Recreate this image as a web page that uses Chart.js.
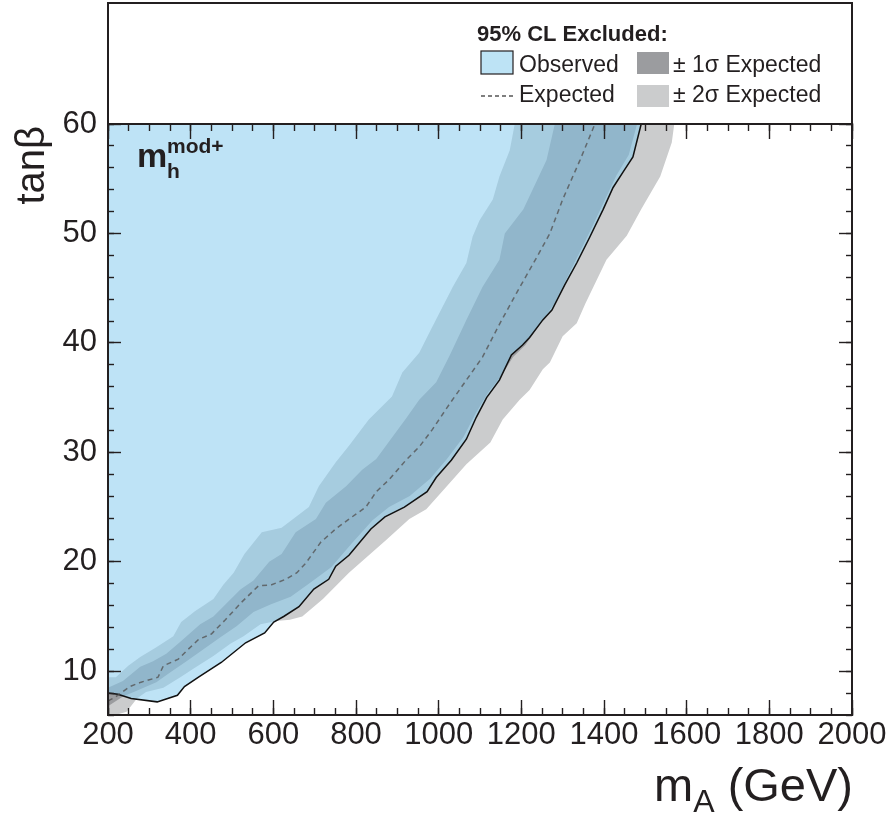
<!DOCTYPE html>
<html><head><meta charset="utf-8">
<script src="https://cdn.jsdelivr.net/npm/chart.js@4.4.1/dist/chart.umd.min.js"></script>
<style>html,body{margin:0;padding:0;background:#fff}canvas{display:block}</style>
</head><body>
<canvas id="c" width="889" height="816"></canvas>
<script>
// ---- data (m_A in GeV, tan beta) ----
const obsX = [200,224,256,319,368,385,419,474,533,579,601,625,662,698,734,751,783,836,870,917,972,994,1031,1067,1091,1116,1147,1176,1203,1220,1252,1274,1305,1334,1366,1398,1422,1446,1470,1490];
const obsY = [8.0,7.9,7.5,7.2,7.8,8.6,9.45,10.8,12.6,13.5,14.5,15.0,15.9,17.5,18.4,19.6,20.6,23.0,24.1,25.0,26.4,27.7,29.3,31.2,33.2,35.0,36.6,38.9,39.8,40.5,42.1,43.0,45.3,47.3,49.7,52.2,54.2,55.6,57.0,60];

const expX = [200,216,253,280,321,334,370,394,419,450,484,523,564,596,630,657,679,715,751,783,824,849,880,921,953,985,1026,1067,1106,1147,1189,1237,1269,1300,1342,1378];
const expY = [7.3,7.6,8.6,9.0,9.45,10.5,11.1,12.0,12.9,13.4,14.7,16.3,17.8,17.9,18.4,19.0,19.9,21.8,23.0,23.9,25.0,26.4,27.5,29.3,30.5,32.1,34.4,36.6,38.7,41.7,44.6,47.8,50.0,53.1,56.7,60];

// +-1 sigma band edges
const sig1UpX = [200,236,278,309,341,375,423,455,484,521,552,590,620,654,703,727,776,815,849,880,921,953,994,1026,1067,1106,1147,1160,1205,1261,1281];
const sig1UpY = [8.5,9.1,10.4,10.9,11.6,12.7,14.3,15.0,16.1,17.5,18.3,20.0,20.7,22.7,23.9,25.4,26.9,28.4,29.4,31.0,33.1,34.8,36.4,38.8,42.1,45.1,47.6,50.0,52.2,56.7,60];
const sig1LoX = [200,236,268,317,351,390,431,472,511,552,593,642,690,740,790,840,880,930,980,1020,1060,1090,1120,1150,1180,1210,1250,1280,1310,1340,1370,1400,1430,1460,1480];
const sig1LoY = [6.8,7.7,8.2,9.0,9.9,10.9,12.0,13.1,14.1,15.4,16.1,16.8,18.1,19.5,21.7,23.8,25.0,26.0,27.6,29.4,31.4,33.6,35.5,36.9,38.7,39.8,42.0,43.6,45.9,48.2,50.5,52.9,55.3,57.2,60];

// +-2 sigma band edges
const sig2UpX = [200,219,249,278,317,358,377,411,455,479,504,530,572,620,686,710,751,783,831,887,912,953,977,1034,1067,1082,1099,1116,1131,1147,1172,1184];
const sig2UpY = [9.45,9.45,10.5,11.3,12.2,13.2,14.5,15.5,16.6,17.9,19.0,20.7,22.7,23.1,25.0,26.9,29.1,30.6,33.0,35.1,37.3,39.1,40.9,45.1,47.3,49.7,51.2,52.2,53.1,55.2,57.6,60];
const sig2LoX = [200,245,270,292,334,375,414,455,496,528,569,608,640,670,720,783,873,929,970,1010,1067,1125,1155,1196,1220,1252,1269,1300,1334,1355,1406,1455,1490,1536,1564,1570];
const sig2LoY = [5.8,6.3,7.5,8.1,8.5,9.45,10.4,11.4,12.5,13.2,14.3,14.6,14.7,15.0,16.6,19.0,22.0,23.9,24.8,26.5,28.9,30.9,33.0,34.8,35.7,37.6,38.2,40.6,41.8,43.6,47.6,49.8,52.2,55.2,58.3,60];

// axis / tick definitions
const xRange = [200, 2000];
const yRange = [6, 60];
const xMajorStep = 200, xMinorStep = 50;
const yMajorStep = 10, yMinorStep = 2;
const legendTitle = '95% CL Excluded:';
const legendLabels = ['Observed', '\u00B1 1\u03C3 Expected', 'Expected', '\u00B1 2\u03C3 Expected'];
const yTitle = 'tan\u03B2';
const xTitleMain = 'm', xTitleSub = 'A', xTitleRest = ' (GeV)';

// ---- styles ----
const FONT = '"Liberation Sans", Arial, Helvetica, sans-serif';
const INK = '#231f20';
const BLUE_FILL = 'rgba(137,204,239,0.55)';
const BLUE_SWATCH = '#bde3f5';
const GRAY1 = '#9b9c9f';
const GRAY2 = '#cbcccd';

function pts(xs, ys) { return xs.map((x, i) => ({x: x, y: ys[i]})); }
function band(ux, uy, lx, ly) { return pts(ux, uy).concat(pts(lx, ly).reverse()); }

function noPad(s) { s.paddingLeft = 0; s.paddingRight = 0; s.paddingTop = 0; s.paddingBottom = 0; }

function scaleDef(axis, pos, range, step, tickLen, opts) {
  const o = opts || {};
  return {
    type: 'linear', axis: axis, position: pos, weight: o.weight || 0,
    min: range[0], max: range[1],
    ticks: Object.assign({
      stepSize: step, autoSkip: false, maxRotation: 0, minRotation: 0,
      includeBounds: false, maxTicksLimit: 1000, display: false,
      callback: v => String(v)
    }, o.ticks || {}),
    grid: { drawOnChartArea: false, drawTicks: true, tickLength: tickLen, tickColor: INK, tickWidth: 1.4, z: 2 },
    border: { display: !!o.border, color: INK, width: 2, z: 2 },
    title: { display: false },
    afterFit: s => { o.afterFit(s); noPad(s); }
  };
}

const tickFont = { family: FONT, size: 31 };

const decor = {
  id: 'decor',
  afterDraw(chart) {
    const ctx = chart.ctx, a = chart.chartArea;
    ctx.save();
    // upper legend box
    ctx.strokeStyle = INK; ctx.lineWidth = 2;
    ctx.beginPath();
    ctx.moveTo(a.left, a.top); ctx.lineTo(a.left, 3); ctx.lineTo(a.right, 3); ctx.lineTo(a.right, a.top);
    ctx.stroke();

    ctx.fillStyle = INK; ctx.textBaseline = 'alphabetic'; ctx.textAlign = 'left';
    ctx.font = 'bold 22px ' + FONT;
    ctx.fillText(legendTitle, 477, 41);

    ctx.fillStyle = BLUE_SWATCH; ctx.fillRect(481, 51, 32, 23);
    ctx.lineWidth = 1.2; ctx.strokeStyle = INK; ctx.strokeRect(481, 51, 32, 23);
    ctx.fillStyle = GRAY1; ctx.fillRect(637, 52, 32, 22);
    ctx.fillStyle = GRAY2; ctx.fillRect(637, 85, 32, 22);
    ctx.save();
    ctx.setLineDash([4, 3]); ctx.strokeStyle = '#555'; ctx.lineWidth = 1.3;
    ctx.beginPath(); ctx.moveTo(481, 96); ctx.lineTo(514, 96); ctx.stroke();
    ctx.restore();

    ctx.fillStyle = INK; ctx.font = '23px ' + FONT;
    ctx.fillText(legendLabels[0], 519, 72);
    ctx.fillText(legendLabels[1], 673, 72);
    ctx.fillText(legendLabels[2], 519, 102);
    ctx.fillText(legendLabels[3], 673, 102);

    // m_h^{mod+}
    ctx.font = 'bold 34px ' + FONT;
    ctx.fillText('m', 137, 167);
    ctx.font = 'bold 21px ' + FONT;
    ctx.fillText('mod+', 167, 153);
    ctx.fillText('h', 167, 178);

    // y title
    ctx.save();
    ctx.translate(44, 126);
    ctx.rotate(-Math.PI / 2);
    ctx.textAlign = 'right';
    ctx.font = '40px ' + FONT;
    ctx.fillText(yTitle, 0, 0);
    ctx.restore();

    // x title, right aligned at chart right
    const big = '47px ' + FONT, small = '32px ' + FONT;
    ctx.font = big;
    const wRest = ctx.measureText(xTitleRest).width;
    const wM = ctx.measureText(xTitleMain).width;
    ctx.font = small;
    const wA = ctx.measureText(xTitleSub).width;
    const x = a.right + 1 - wRest - wA - wM;
    ctx.font = big;
    ctx.fillText(xTitleMain, x, 801);
    ctx.font = small;
    ctx.fillText(xTitleSub, x + wM, 812);
    ctx.font = big;
    ctx.fillText(xTitleRest, x + wM + wA, 801);
    ctx.restore();
  }
};

new Chart(document.getElementById('c'), {
  type: 'line',
  data: {
    datasets: [
      { label: 'Expected', data: pts(expX, expY), borderColor: 'rgba(85,85,85,0.8)', borderWidth: 1.5,
        borderDash: [5, 4], fill: false, pointRadius: 0, order: 1 },
      { label: 'Observed', data: pts(obsX, obsY), borderColor: '#111', borderWidth: 1.5,
        backgroundColor: BLUE_FILL, fill: 'end', pointRadius: 0, order: 2 },
      { label: '1 sigma', data: band(sig1UpX, sig1UpY, sig1LoX, sig1LoY), borderWidth: 0,
        backgroundColor: GRAY1, fill: 'shape', pointRadius: 0, order: 3 },
      { label: '2 sigma', data: band(sig2UpX, sig2UpY, sig2LoX, sig2LoY), borderWidth: 0,
        backgroundColor: GRAY2, fill: 'shape', pointRadius: 0, order: 4 }
    ]
  },
  options: {
    responsive: false, animation: false, devicePixelRatio: 1,
    layout: { padding: { top: 124, left: 0, right: 37, bottom: 0 } },
    plugins: { legend: { display: false }, tooltip: { enabled: false } },
    elements: { line: { tension: 0 } },
    scales: {
      x: scaleDef('x', 'bottom', xRange, xMajorStep, -15, {
        weight: 1, border: true,
        ticks: { display: true, font: tickFont, color: INK, padding: 17 },
        afterFit: s => { s.height = 101; } }),
      xm: scaleDef('x', 'bottom', xRange, xMinorStep, -7, { afterFit: s => { s.height = 0; } }),
      xt: scaleDef('x', 'top', xRange, xMajorStep, -15, { weight: 1, border: true, afterFit: s => { s.height = 0; } }),
      xtm: scaleDef('x', 'top', xRange, xMinorStep, -7, { afterFit: s => { s.height = 0; } }),
      y: scaleDef('y', 'left', yRange, yMajorStep, -13, {
        weight: 1, border: true,
        ticks: { display: true, font: tickFont, color: INK, padding: 24 },
        afterFit: s => { s.width = 108; } }),
      ym: scaleDef('y', 'left', yRange, yMinorStep, -6, { afterFit: s => { s.width = 0; } }),
      yr: scaleDef('y', 'right', yRange, yMajorStep, -13, { weight: 1, border: true, afterFit: s => { s.width = 0; } }),
      yrm: scaleDef('y', 'right', yRange, yMinorStep, -6, { afterFit: s => { s.width = 0; } })
    }
  },
  plugins: [decor]
});
</script>
</body></html>
